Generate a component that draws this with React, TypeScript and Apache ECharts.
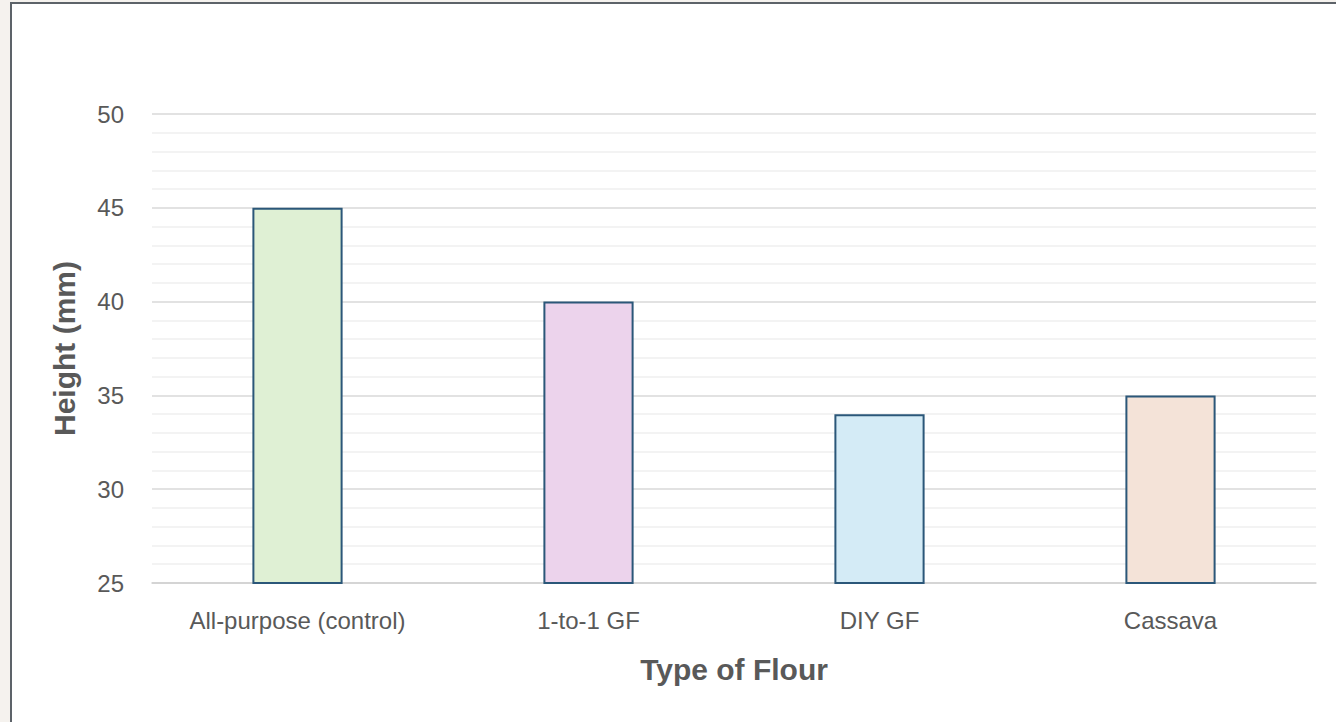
import React, { useEffect, useRef } from "react";
import * as echarts from "echarts";

const categories = ["All-purpose (control)", "1-to-1 GF", "DIY GF", "Cassava"];
const heights = [45, 40, 34, 35];
const barColors = ["#dff0d4", "#ecd3ec", "#d4ebf6", "#f4e3d8"];
const xTitle = "Type of Flour";
const yTitle = "Height (mm)";

export default function App() {
  const ref = useRef<HTMLDivElement>(null);
  useEffect(() => {
    if (!ref.current) return;
    const chart = echarts.init(ref.current, null, { renderer: "svg" });
    const font = "'Liberation Sans', Arial, sans-serif";
    chart.setOption({
      animation: false,
      backgroundColor: "#f5f2ee",
      graphic: [
        {
          type: "rect",
          z: -10,
          shape: { x: 11, y: 3, width: 1340, height: 730 },
          style: { fill: "#ffffff", stroke: "#5d6369", lineWidth: 2 },
        },
      ],
      grid: { left: 152, right: 20, top: 114, bottom: 139, containLabel: false },
      xAxis: {
        type: "category",
        data: categories,
        name: xTitle,
        nameLocation: "middle",
        nameGap: 71,
        nameTextStyle: { fontFamily: font, fontSize: 30, fontWeight: "bold", color: "#595959" },
        axisLine: { show: true, lineStyle: { color: "#d0d0d0", width: 1.5 } },
        axisTick: { show: false },
        axisLabel: { fontFamily: font, fontSize: 24, color: "#595959", margin: 25 },
      },
      yAxis: {
        type: "value",
        min: 25,
        max: 50,
        interval: 5,
        name: yTitle,
        nameLocation: "middle",
        nameGap: 73,
        nameTextStyle: { fontFamily: font, fontSize: 30, fontWeight: "bold", color: "#595959" },
        axisLine: { show: false },
        axisTick: { show: false },
        axisLabel: { fontFamily: font, fontSize: 24, color: "#595959", margin: 28 },
        splitLine: { show: true, lineStyle: { color: "#d9d9d9", width: 1.5 } },
        minorTick: { show: false, splitNumber: 5 },
        minorSplitLine: { show: true, lineStyle: { color: "#efefef", width: 1.5 } },
      },
      series: [
        {
          type: "bar",
          data: heights.map((v, i) => ({ value: v, itemStyle: { color: barColors[i] } })),
          barWidth: "31%",
          itemStyle: { borderColor: "#2b5779", borderWidth: 2 },
        },
      ],
    });
    return () => chart.dispose();
  }, []);
  return (
    <div
      ref={ref}
      style={{ position: "fixed", left: 0, top: 0, width: 1336, height: 722 }}
    />
  );
}
